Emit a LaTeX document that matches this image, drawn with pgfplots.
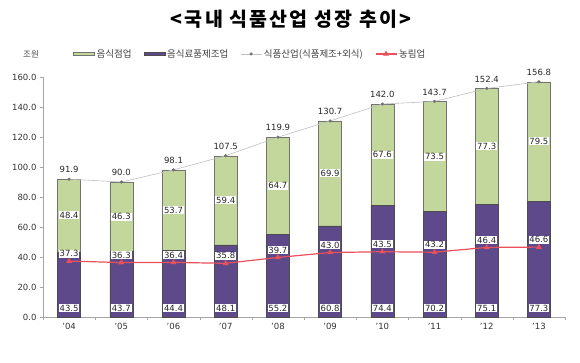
\documentclass[border=0pt]{standalone}
\usepackage{fontspec}
\setmainfont{DejaVu Sans}
\newfontfamily\kr{Noto Sans CJK KR}
\newfontfamily\krt{Noto Sans CJK KR}[LetterSpace=11]
\usepackage{pgfplots}
\pgfplotsset{compat=1.18}
\usepackage{pgfplotstable}
\definecolor{grn}{HTML}{C3D69B}
\definecolor{pur}{HTML}{5E4A8A}
\definecolor{redl}{HTML}{E8505B}
\definecolor{axg}{HTML}{A6A6A6}

\pgfplotstableread{
x mfg rest total agri
0 43.5 48.4 91.9 37.3
1 43.7 46.3 90.0 36.3
2 44.4 53.7 98.1 36.4
3 48.1 59.4 107.5 35.8
4 55.2 64.7 119.9 39.7
5 60.8 69.9 130.7 43.0
6 74.4 67.6 142.0 43.5
7 70.2 73.5 143.7 43.2
8 75.1 77.3 152.4 46.4
9 77.3 79.5 156.8 46.6
}\data

\pgfplotsset{
  base/.style={
    at={(43pt,-317pt)}, anchor=south west, scale only axis,
    width=522pt, height=240pt,
    xmin=-0.5, xmax=9.5, ymin=0, ymax=160, clip=false,
  },
  lab/.style={
    forget plot, draw=none, mark=none,
    nodes near coords={\pgfmathprintnumber[fixed,fixed zerofill,precision=1,assume math mode=true]{\pgfplotspointmeta}},
    point meta=explicit,
    every node near coord/.append style={anchor=center, font=\fontsize{8.5}{9}\selectfont, inner sep=0.8pt, text=black!85},
  },
  boxlab/.style={lab, every node near coord/.append style={fill=white}},
  linelegend/.style={legend image code/.code={\draw[mark repeat=2,mark phase=2] plot coordinates {(0pt,0pt) (10.5pt,0pt) (21pt,0pt)};}},
}

\begin{document}
\begin{tikzpicture}[x=1pt,y=1pt]
\path[use as bounding box] (0,0) rectangle (580,-362);
\node[font=\krt\bfseries\fontsize{19.5}{22}\selectfont] at (291,-19) {<국내 식품산업 성장 추이>};
\node[font=\kr\fontsize{8.5}{9}\selectfont, text=black!70] at (31,-54) {조원};

\begin{axis}[base,
  ybar stacked, bar width=23pt,
  axis x line*=bottom, axis y line*=left,
  axis line style={draw=axg, -},
  ytick={0,20,...,160},
  yticklabel style={font=\fontsize{8.5}{9}\selectfont, text=black!80, /pgf/number format/.cd, fixed, fixed zerofill, precision=1, assume math mode=true},
  ytick style={draw=axg}, major tick length=3pt, tick align=outside,
  xtick={0,...,9},
  xticklabels={’04,’05,’06,’07,’08,’09,’10,’11,’12,’13},
  xticklabel style={font=\fontsize{8.5}{9}\selectfont, text=black!80},
  x tick style={draw=none},
  minor xtick={-0.5,0.5,...,9.5},
  minor x tick style={draw=axg},
  minor tick length=3pt,
]
\addplot[fill=pur, draw=black!70, line width=0.5pt] table[x=x,y=mfg]{\data};
\addplot[fill=grn, draw=black!55, line width=0.5pt] table[x=x,y=rest]{\data};
\end{axis}

\begin{axis}[base, hide axis,
  legend style={at={(0.397,1.096)}, anchor=center, draw=none, fill=none,
    legend columns=4, font=\kr\fontsize{9.5}{10}\selectfont, text=black!75,
    /tikz/every even column/.append style={column sep=10pt},
    /tikz/every odd column/.append style={column sep=0pt}},
  legend cell align=left,
]
\addlegendimage{legend image code/.code={\draw[fill=grn,draw=black!55,line width=0.5pt] (0pt,-1.5pt) rectangle (21pt,1.5pt);}}
\addlegendentry{음식점업}
\addlegendimage{legend image code/.code={\draw[fill=pur,draw=black!70,line width=0.5pt] (0pt,-1.5pt) rectangle (21pt,1.5pt);}}
\addlegendentry{음식료품제조업}
\addplot[linelegend, color=black!25, line width=0.6pt, mark=*, mark size=1.3pt, mark options={fill=black!55, draw=black!55}] table[x=x,y=total]{\data};
\addlegendentry{식품산업(식품제조+외식)}
\addplot[linelegend, color=redl, line width=1.2pt, mark=triangle*, mark size=2.2pt, mark options={fill=redl, draw=redl}] table[x=x,y=agri]{\data};
\addlegendentry{농림업}

\addplot[lab] table[x=x, y expr=\thisrow{total}+6.2, meta=total]{\data};
\addplot[boxlab] table[x=x, y expr=\thisrow{mfg}+\thisrow{rest}/2, meta=rest]{\data};
\addplot[boxlab] table[x=x, y expr=\thisrow{agri}+5, meta=agri]{\data};
\addplot[boxlab] table[x=x, y expr=6, meta=mfg]{\data};
\end{axis}
\end{tikzpicture}
\end{document}
